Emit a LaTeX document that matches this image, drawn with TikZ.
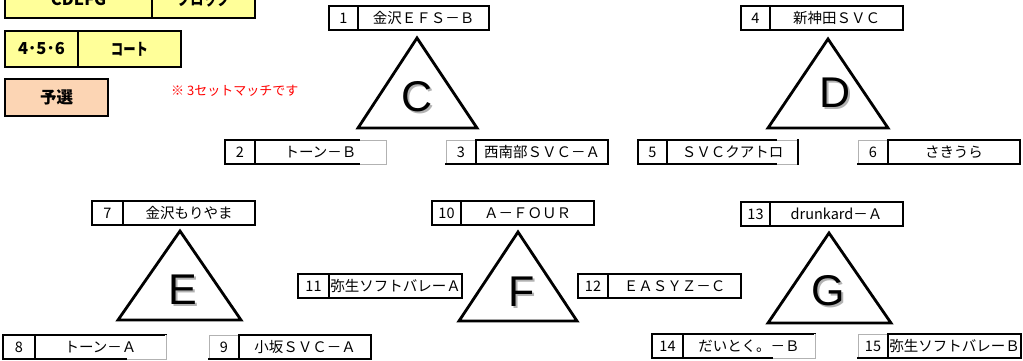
\documentclass[tikz,border=0pt]{standalone}
\usepackage{fontspec}
\setmainfont{Liberation Sans}
\newfontfamily\jp{Noto Sans CJK JP}
\definecolor{hdryellow}{HTML}{FFFF99}
\definecolor{peach}{HTML}{FCD5B4}
\tikzset{
  box/.style={draw=black, line width=1.8pt, inner sep=0pt, outer sep=0pt,
    minimum height=24pt, anchor=north west, font=\jp\fontsize{14.5}{16}\selectfont},
  grayline/.style={draw=gray!60, line width=1pt, preaction={draw=white, line width=2.8pt}},
  tri/.style={draw=black, line width=2.8pt, line join=miter, fill=white},
  letter/.style={font=\fontsize{43}{47}\selectfont, inner sep=0pt},
  lettershadow/.style={letter, text=black!30},
  hdr/.style={draw=black, line width=1.8pt, fill=hdryellow, inner sep=0pt, outer sep=0pt,
    anchor=north west, font=\jp\bfseries\fontsize{16.5}{18}\selectfont},
  note/.style={anchor=west, text=red, inner sep=0pt, font=\jp\fontsize{13}{15}\selectfont},
}
\newcommand{\teambox}[7]{%
  \node[box, minimum width={(#3-#2)*1pt}] (n#1) at (#2,#5) {#6};
  \node[box, minimum width={(#4-#3)*1pt}] (t#1) at (#3,#5) {#7};
}
\begin{document}
\begin{tikzpicture}[x=1pt,y=-1pt]
\useasboundingbox (0,0) rectangle (1023,361);
\clip (0,0) rectangle (1023,361);

% header boxes
\node[hdr, minimum width=147pt, minimum height=38pt] (hA1) at (5,-20) {CDEFG};
\node[hdr, minimum width=103pt, minimum height=38pt] (hA2) at (152,-20) {\scalebox{0.8}[1]{ブロック}};
\node[hdr, minimum width=73pt, minimum height=36pt] (hB1) at (5,31) {4･5･6};
\node[hdr, minimum width=103pt, minimum height=36pt] (hB2) at (78,31) {\scalebox{0.75}[1]{コート}};
\node[hdr, fill=peach, minimum width=103pt, minimum height=37pt] (hC) at (5,79) {予選};
\node[note] (nt) at (171,91) {※ 3セットマッチです};

% triangles
\draw[tri] (417,38) -- (477,128) -- (358,128) -- cycle;
\draw[tri] (828,39) -- (888,128) -- (768,128) -- cycle;
\draw[tri] (180,231) -- (241,320) -- (118,320) -- cycle;
\draw[tri] (518,232) -- (577,321) -- (459,321) -- cycle;
\draw[tri] (829,233) -- (891,323) -- (768,323) -- cycle;

\node[lettershadow] (sC) at (419,99) {C};
\node[letter] (lC) at (417,97) {C};
\node[lettershadow] (sD) at (837,95) {D};
\node[letter] (lD) at (835,93) {D};
\node[lettershadow] (sE) at (185,292) {E};
\node[letter] (lE) at (183,290) {E};
\node[lettershadow] (sF) at (524,294) {F};
\node[letter] (lF) at (522,292) {F};
\node[lettershadow] (sG) at (830,293) {G};
\node[letter] (lG) at (828,291) {G};

% team boxes: id, x1, xdiv, x2, y1, number, name
\teambox{1}{329}{358}{489}{6}{1}{金沢ＥＦＳ－Ｂ}
\teambox{2}{225}{255}{386}{140}{2}{トーン－Ｂ}
\teambox{3}{446}{476}{608}{140}{3}{西南部ＳＶＣ－Ａ}
\teambox{4}{741}{770}{903}{6}{4}{新神田ＳＶＣ}
\teambox{5}{638}{667}{798}{140}{5}{ＳＶＣクアトロ}
\teambox{6}{858}{888}{1020}{140}{6}{さきうら}
\teambox{7}{92}{123}{255}{201}{7}{金沢もりやま}
\teambox{8}{3}{35}{166}{335}{8}{トーン－Ａ}
\teambox{9}{209}{239}{371}{335}{9}{小坂ＳＶＣ－Ａ}
\teambox{10}{432}{461}{594}{201}{10}{Ａ－ＦＯＵＲ}
\teambox{11}{298}{329}{462}{274}{11}{弥生ソフトバレーＡ}
\teambox{12}{578}{608}{741}{274}{12}{ＥＡＳＹＺ－Ｃ}
\teambox{13}{741}{770}{903}{202}{13}{drunkard－Ａ}
\teambox{14}{652}{683}{815}{334}{14}{だいとく。－Ｂ}
\teambox{15}{858}{888}{1021}{334}{15}{弥生ソフトバレーＢ}

% lighter border segments
\draw[grayline] ([xshift=-26pt]t2.north east) -- (t2.north east) -- (t2.south east) -- ([xshift=-26pt]t2.south east);
\draw[grayline] ([xshift=-21pt]t5.north east) -- ([xshift=-1pt]t5.north east);
\draw[grayline] ([xshift=-21pt]t5.south east) -- ([xshift=-1pt]t5.south east);
\draw[grayline] (t8.north east) -- (t8.south east) -- ([xshift=-39pt]t8.south east);
\draw[grayline] (t14.north east) -- (t14.south east) -- ([xshift=-42pt]t14.south east);
\draw[grayline] ([yshift=1pt]n3.south west) -- (n3.north west) -- ([xshift=-1pt]n3.north east);
\draw[grayline] ([yshift=1pt]n6.south west) -- (n6.north west) -- ([xshift=-1pt]n6.north east);
\draw[grayline] ([yshift=1pt]n9.south west) -- (n9.north west) -- ([xshift=-1pt]n9.north east);
\draw[grayline] ([yshift=1pt]n15.south west) -- (n15.north west) -- ([xshift=-1pt]n15.north east);
\end{tikzpicture}
\end{document}
